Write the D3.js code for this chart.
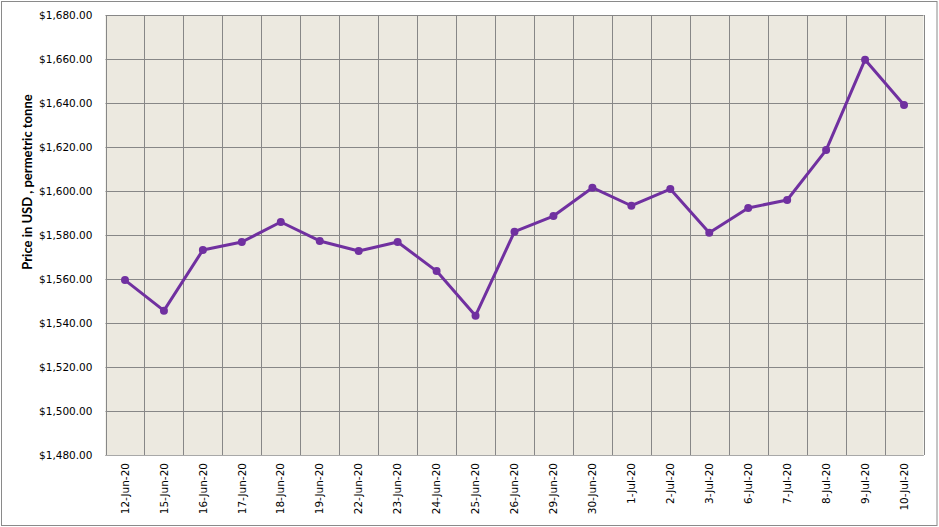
<!DOCTYPE html>
<html>
<head>
<meta charset="utf-8">
<script src="https://cdn.jsdelivr.net/npm/d3@7"></script>
<style>
  html, body { margin: 0; padding: 0; background: #fff; }
  svg { display: block; }
  .tick text { font-family: "DejaVu Sans", Verdana, sans-serif; font-size: 10.5px; fill: #000; }
</style>
</head>
<body>
<svg id="chart" width="939" height="527"></svg>
<script>
const categories = ["12-Jun-20","15-Jun-20","16-Jun-20","17-Jun-20","18-Jun-20","19-Jun-20","22-Jun-20","23-Jun-20","24-Jun-20","25-Jun-20","26-Jun-20","29-Jun-20","30-Jun-20","1-Jul-20","2-Jul-20","3-Jul-20","6-Jul-20","7-Jul-20","8-Jul-20","9-Jul-20","10-Jul-20"];
const prices = [1559.5,1545.6,1573.2,1576.8,1585.9,1577.3,1572.7,1576.8,1563.6,1543.3,1581.5,1588.6,1601.5,1593.3,1600.9,1581.0,1592.3,1595.9,1618.6,1659.7,1639.1];
const yTicks = [1480,1500,1520,1540,1560,1580,1600,1620,1640,1660,1680];
const yTitle = "Price in USD , permetric tonne";

const svg = d3.select("#chart");
const plot = { left: 105.5, right: 923.5, top: 15, bottom: 455 };

// outer border
svg.append("rect").attr("x", 1.5).attr("y", 1.5).attr("width", 935.5).attr("height", 524)
  .attr("fill", "#fff").attr("stroke", "#8a8a8a").attr("stroke-width", 1);

const x = d3.scaleBand().domain(categories).range([plot.left, plot.right]).padding(0);
const y = d3.scaleLinear().domain([1480, 1680]).range([plot.bottom, plot.top]);

// plot background
svg.append("rect").attr("x", plot.left).attr("y", plot.top)
  .attr("width", plot.right - plot.left).attr("height", plot.bottom - plot.top)
  .attr("fill", "#ECE9E0");

const grid = svg.append("g").attr("stroke", "#878787").attr("stroke-width", 1);
grid.selectAll("line.h").data(yTicks).join("line")
  .attr("x1", plot.left).attr("x2", plot.right)
  .attr("y1", d => Math.round(y(d)) + 0.5).attr("y2", d => Math.round(y(d)) + 0.5);
const bounds = categories.map(c => x(c)).concat([plot.right]);
grid.selectAll("line.v").data(bounds).join("line")
  .attr("x1", d => Math.round(d) + 0.5).attr("x2", d => Math.round(d) + 0.5)
  .attr("y1", plot.top).attr("y2", plot.bottom);

svg.append("line").attr("x1", plot.left).attr("x2", plot.right)
  .attr("y1", plot.bottom + 0.5).attr("y2", plot.bottom + 0.5)
  .attr("stroke", "#a8a8a8").attr("stroke-width", 1);

// y axis labels
const fmt = d3.format("$,.2f");
const yAxis = d3.axisLeft(y).tickValues(yTicks).tickFormat(fmt).tickSize(0).tickPadding(13);
const gy = svg.append("g").attr("transform", `translate(${plot.left},0)`).call(yAxis);
gy.attr("font-family", null).attr("font-size", null);
gy.select(".domain").remove();

// x axis labels
const xAxis = d3.axisBottom(x).tickSize(0).tickPadding(0);
const gx = svg.append("g").attr("transform", `translate(0,${plot.bottom})`).call(xAxis);
gx.attr("font-family", null).attr("font-size", null);
gx.select(".domain").remove();
gx.selectAll("text")
  .attr("text-anchor", "end")
  .attr("dy", "0.35em")
  .attr("transform", "translate(0,8) rotate(-90)")
  .attr("x", 0).attr("y", 0);

// y axis title
svg.append("text")
  .attr("transform", `translate(32,182) rotate(-90)`)
  .attr("text-anchor", "middle")
  .style("font-family", "Lato, 'Liberation Sans', sans-serif")
  .style("font-weight", "bold")
  .style("font-size", "13px")
  .attr("fill", "#000")
  .text(yTitle);

// line
const cx = d => x(d) + x.bandwidth() / 2;
const line = d3.line().x((d, i) => cx(categories[i])).y(d => y(d));
svg.append("path").datum(prices).attr("d", line)
  .attr("fill", "none").attr("stroke", "#7030A0").attr("stroke-width", 3)
  .attr("stroke-linejoin", "round");
svg.selectAll("circle.pt").data(prices).join("circle")
  .attr("cx", (d, i) => cx(categories[i])).attr("cy", d => y(d))
  .attr("r", 4).attr("fill", "#7030A0");
</script>
</body>
</html>
